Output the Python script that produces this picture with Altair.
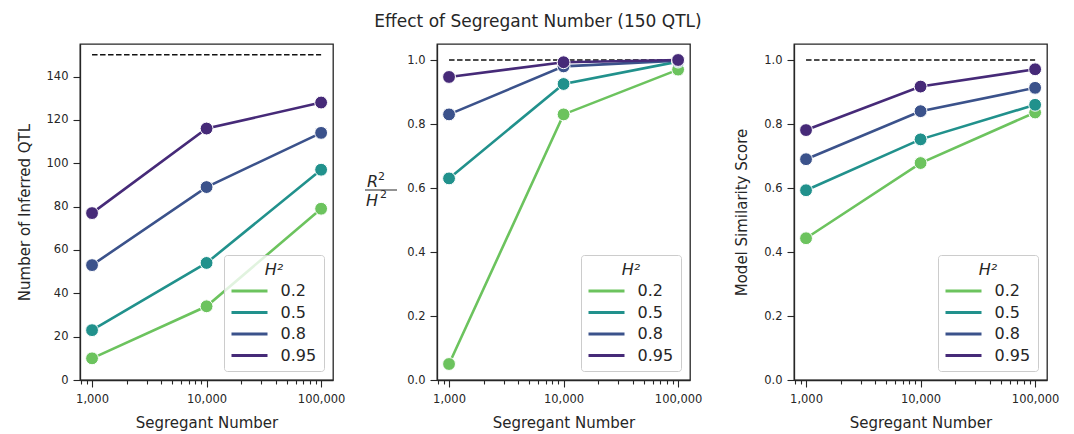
import altair as alt
import pandas as pd

# ---------------- data ----------------
segregants = [1000, 10000, 100000]
h2_levels = ["0.2", "0.5", "0.8", "0.95"]
h2_colors = ["#6cc35e", "#21918c", "#3b528b", "#462a78"]

# panel 1: number of inferred QTL
qtl_h02 = [10, 34, 79]
qtl_h05 = [23, 54, 97]
qtl_h08 = [53, 89, 114]
qtl_h095 = [77, 116, 128]

# panel 2: R^2 / H^2
r2_h02 = [0.05, 0.83, 0.97]
r2_h05 = [0.63, 0.925, 0.995]
r2_h08 = [0.83, 0.98, 0.998]
r2_h095 = [0.947, 0.993, 1.0]

# panel 3: model similarity score
sim_h02 = [0.443, 0.678, 0.836]
sim_h05 = [0.593, 0.752, 0.860]
sim_h08 = [0.690, 0.840, 0.913]
sim_h095 = [0.781, 0.917, 0.971]

true_qtl = 150
ratio_ref = 1.0
sim_ref = 1.0

x_tick_values = [800, 900, 1000, 2000, 3000, 4000, 5000, 6000, 7000, 8000, 9000,
                 10000, 20000, 30000, 40000, 50000, 60000, 70000, 80000, 90000, 100000]

FONT = "DejaVu Sans"
INK = "#262626"
MAJOR = "datum.value == 1000 || datum.value == 10000 || datum.value == 100000"


def make_df(series):
    rows = []
    for lvl, vals in zip(h2_levels, series):
        for s, v in zip(segregants, vals):
            rows.append({"seg": s, "val": v, "H2": lvl})
    return pd.DataFrame(rows)


def panel(series, ytitle, ydomain, yvalues, yfmt, ref, extra=None):
    df = make_df(series)
    x = alt.X("seg:Q",
              scale=alt.Scale(type="log", domain=[785, 127000], nice=False),
              axis=alt.Axis(values=x_tick_values, title="Segregant Number",
                            labelExpr=f"({MAJOR}) ? format(datum.value, ',') : ''",
                            labelOverlap=False, labelFlush=False,
                            tickSize={"condition": {"test": MAJOR, "value": 7}, "value": 4},
                            labelPadding=6, titlePadding=11))
    y = alt.Y("val:Q",
              scale=alt.Scale(domain=ydomain, nice=False, zero=False),
              axis=alt.Axis(values=yvalues, format=yfmt, title=ytitle, tickSize=7,
                            labelPadding=5, titlePadding=14))
    color_leg = alt.Color(
        "H2:N",
        scale=alt.Scale(domain=h2_levels, range=h2_colors),
        legend=alt.Legend(title="H²", orient="bottom-right", offset=9,
                          symbolType="M-3,0H3", symbolSize=144, symbolStrokeWidth=3,
                          symbolOffset=10.5, labelOffset=23,
                          labelFontSize=16, titleFontSize=16, titleFontStyle="italic",
                          titleFontWeight="normal", titleAnchor="middle",
                          fillColor="rgba(255,255,255,0.8)", strokeColor="#cccccc",
                          cornerRadius=3, padding=7, rowPadding=5.5,
                          labelFont=FONT, titleFont=FONT, labelColor=INK, titleColor=INK,
                          titlePadding=5))
    lines = alt.Chart(df).mark_line(strokeWidth=2.6).encode(
        x=x, y=y, color=color_leg, order="seg:Q")
    points = alt.Chart(df).mark_point(filled=True, size=165, stroke="white",
                                      strokeWidth=1, opacity=1).encode(
        x=x, y=y, fill=alt.Fill("H2:N", scale=alt.Scale(domain=h2_levels, range=h2_colors), legend=None))
    ref_df = pd.DataFrame({"x1": [segregants[0]], "x2": [segregants[-1]], "yv": [ref]})
    ref_rule = alt.Chart(ref_df).mark_rule(color="#111111", strokeWidth=1.5,
                                           strokeDash=[5.5, 2.5]).encode(
        x="x1:Q", x2="x2:Q", y="yv:Q")
    layers = [ref_rule, lines, points]
    if extra:
        layers += extra
    return alt.layer(*layers).properties(width=253, height=336)


# fraction y-label (R^2 / H^2) for panel 2
frac_df = pd.DataFrame({"t": ["R", "2", "H", "2"],
                        "px": [-70, -59, -71, -57],
                        "py": [143, 136, 162, 154],
                        "fs": [16, 11, 16, 11],
                        "it": ["italic", "normal", "italic", "normal"]})


def frac_text(i):
    d = frac_df.iloc[[i]]
    return alt.Chart(d).mark_text(font=FONT, fontSize=float(d["fs"].iloc[0]),
                                  fontStyle=d["it"].iloc[0], color=INK,
                                  align="left", baseline="alphabetic").encode(
        x=alt.value(int(d["px"].iloc[0])), y=alt.value(int(d["py"].iloc[0])), text="t:N")


frac_bar = alt.Chart(frac_df.iloc[[0]]).mark_rule(color=INK, strokeWidth=1).encode(
    x=alt.value(-72), x2=alt.value(-40), y=alt.value(146))

p1 = panel([qtl_h02, qtl_h05, qtl_h08, qtl_h095], "Number of Inferred QTL",
           [0, 155], [0, 20, 40, 60, 80, 100, 120, 140], "d", true_qtl)
p2 = panel([r2_h02, r2_h05, r2_h08, r2_h095], "",
           [0, 1.05], [0, 0.2, 0.4, 0.6, 0.8, 1.0], ".1f", ratio_ref,
           extra=[frac_bar] + [frac_text(i) for i in range(4)])
p3 = panel([sim_h02, sim_h05, sim_h08, sim_h095], "Model Similarity Score",
           [0, 1.05], [0, 0.2, 0.4, 0.6, 0.8, 1.0], ".1f", sim_ref)

chart = alt.hconcat(p1, p2, p3, spacing=104, bounds="flush").resolve_scale(
    color="independent", fill="independent"
).properties(
    title=alt.Title("Effect of Segregant Number (150 QTL)", fontSize=17, font=FONT,
                    fontWeight="normal", color=INK, anchor="middle", offset=12),
    padding={"left": 8, "top": 5, "right": 5, "bottom": 5},
).configure_view(
    stroke=INK, strokeWidth=1.3
).configure_axis(
    grid=False, labelFont=FONT, titleFont=FONT, labelFontSize=11.5, titleFontSize=15,
    titleFontWeight="normal", labelColor=INK, titleColor=INK, tickColor=INK,
    domainColor=INK, domainWidth=1.3, tickWidth=1.1
)

chart.save("out.html", embed_options={"renderer": "svg", "actions": False})
